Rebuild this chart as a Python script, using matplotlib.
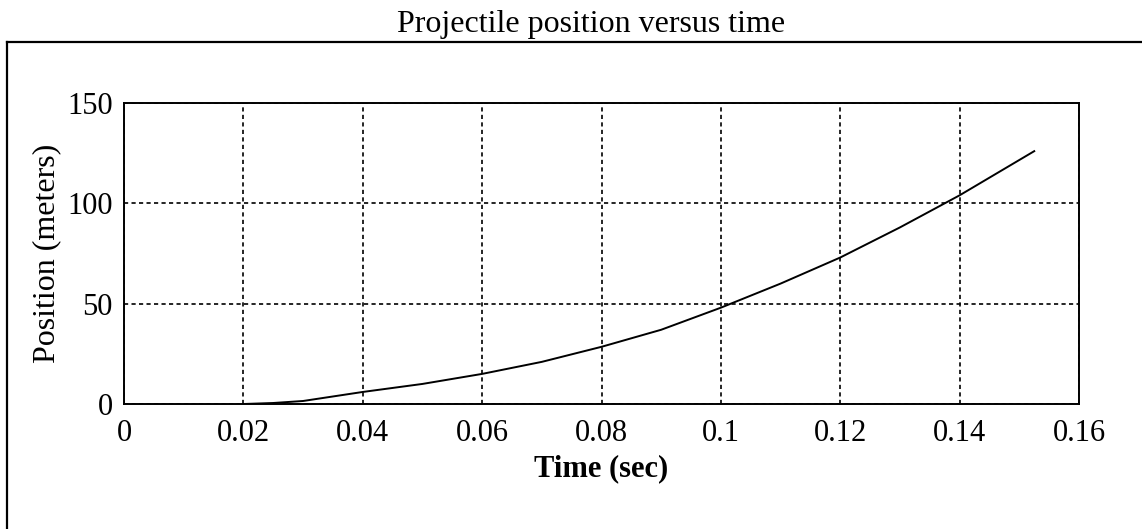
import matplotlib
matplotlib.use("Agg")
import matplotlib.pyplot as plt
from matplotlib.lines import Line2D

# Data
time_s = [0.020, 0.025, 0.030, 0.040, 0.050, 0.060, 0.070, 0.080, 0.090,
          0.100, 0.110, 0.120, 0.130, 0.140, 0.1525]
position_m = [0.0, 0.5, 1.5, 6.0, 10.0, 15.0, 21.0, 28.5, 37.0,
              48.0, 60.0, 73.0, 88.0, 104.0, 126.0]
x_ticks = [0, 0.02, 0.04, 0.06, 0.08, 0.10, 0.12, 0.14, 0.16]
x_tick_labels = ["0", "0.02", "0.04", "0.06", "0.08", "0.1", "0.12", "0.14", "0.16"]
y_ticks = [0, 50, 100, 150]
y_tick_labels = ["0", "50", "100", "150"]

W, H = 1142, 529
fig = plt.figure(figsize=(W / 100, H / 100), dpi=100)
fig.patch.set_facecolor("white")
serif = "Liberation Serif"

# Outer frame (top and left edges; right/bottom run off the page)
fig.add_artist(Line2D([7 / W, 1.01], [1 - 42 / H, 1 - 42 / H], transform=fig.transFigure,
                      color="black", lw=1.6))
fig.add_artist(Line2D([7 / W, 7 / W], [1 - 42 / H, -0.01], transform=fig.transFigure,
                      color="black", lw=1.6))

fig.text(591 / W, 1 - 32 / H, "Projectile position versus time", ha="center", va="baseline",
         fontsize=23, family=serif)

ax = fig.add_axes([124 / W, 1 - 404 / H, (1079 - 124) / W, (404 - 103) / H])
ax.plot(time_s, position_m, color="black", lw=1.4)
ax.set_xlim(0, 0.16)
ax.set_ylim(0, 150)
ax.set_xticks(x_ticks)
ax.set_xticklabels(x_tick_labels, family=serif, fontsize=22)
ax.set_yticks(y_ticks)
ax.set_yticklabels(y_tick_labels, family=serif, fontsize=22)
ax.tick_params(axis="both", length=0)
ax.tick_params(axis="x", pad=11)
ax.tick_params(axis="y", pad=8)
ax.grid(True, color="black", linestyle=(0, (2.5, 2.0)), lw=1.2)
for s in ax.spines.values():
    s.set_linewidth(1.4)

ax.set_xlabel("Time (sec)", family=serif, fontsize=22, fontweight="bold", labelpad=4)
ax.set_ylabel("Position (meters)", family=serif, fontsize=23, labelpad=4)

fig.savefig("out.png", dpi=100)
